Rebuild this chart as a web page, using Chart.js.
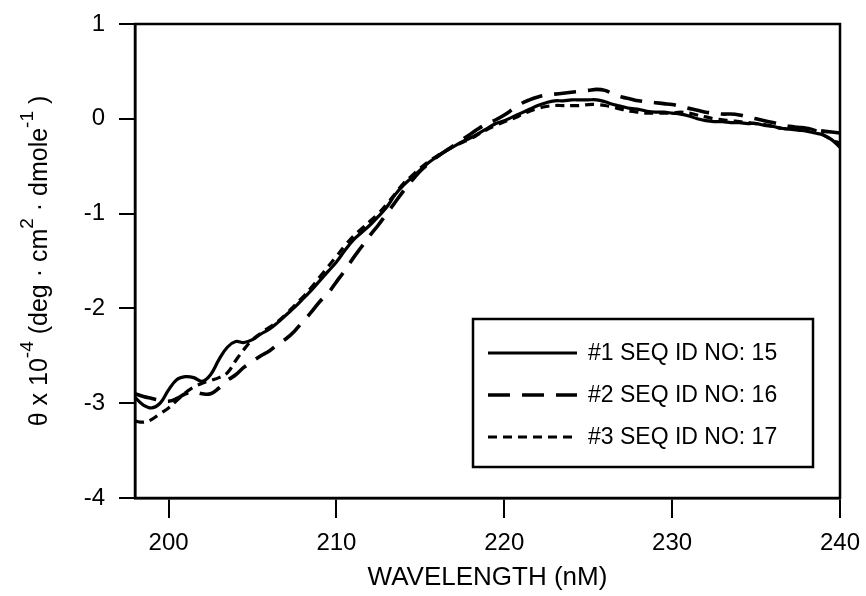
<!DOCTYPE html>
<html>
<head>
<meta charset="utf-8">
<script src="https://cdn.jsdelivr.net/npm/chart.js@4.4.1/dist/chart.umd.min.js"></script>
<style>
html, body { margin: 0; padding: 0; background: #fff; }
#wrap { width: 866px; height: 596px; }
</style>
</head>
<body>
<div id="wrap"><canvas id="cht-cd"></canvas></div>
<script>
// wavelength (nm) sampled every 0.5
var wavelengths = [
  198, 198.5, 199, 199.5, 200, 200.5, 201, 201.5, 202, 202.5,
  203, 203.5, 204, 204.5, 205, 205.5, 206, 206.5, 207, 207.5,
  208, 208.5, 209, 209.5, 210, 210.5, 211, 211.5, 212, 212.5,
  213, 213.5, 214, 214.5, 215, 215.5, 216, 216.5, 217, 217.5,
  218, 218.5, 219, 219.5, 220, 220.5, 221, 221.5, 222, 222.5,
  223, 223.5, 224, 224.5, 225, 225.5, 226, 226.5, 227, 227.5,
  228, 228.5, 229, 229.5, 230, 230.5, 231, 231.5, 232, 232.5,
  233, 233.5, 234, 234.5, 235, 235.5, 236, 236.5, 237, 237.5,
  238, 238.5, 239, 239.5, 240
];

var seq15 = [
  -2.94, -3.02, -3.05, -3.00, -2.86, -2.75, -2.72, -2.73, -2.77, -2.70,
  -2.54, -2.41, -2.35, -2.36, -2.33, -2.27, -2.22, -2.15, -2.07, -1.99,
  -1.90, -1.81, -1.71, -1.61, -1.51, -1.39, -1.28, -1.20, -1.12, -1.03,
  -0.93, -0.80, -0.70, -0.62, -0.54, -0.46, -0.40, -0.34, -0.29, -0.24,
  -0.20, -0.15, -0.10, -0.05, -0.02, 0.02, 0.06, 0.10, 0.14, 0.17,
  0.19, 0.19, 0.20, 0.20, 0.20, 0.20, 0.18, 0.15, 0.13, 0.11,
  0.10, 0.08, 0.07, 0.07, 0.06, 0.05, 0.03, 0.00, -0.02, -0.03,
  -0.03, -0.04, -0.04, -0.05, -0.05, -0.07, -0.08, -0.10, -0.11, -0.12,
  -0.13, -0.15, -0.17, -0.22, -0.30
];

var seq16 = [
  -2.90, -2.93, -2.95, -2.97, -2.98, -2.95, -2.90, -2.88, -2.90, -2.90,
  -2.84, -2.76, -2.70, -2.62, -2.56, -2.50, -2.45, -2.38, -2.32, -2.24,
  -2.14, -2.04, -1.93, -1.84, -1.72, -1.60, -1.47, -1.35, -1.23, -1.12,
  -1.00, -0.88, -0.76, -0.65, -0.55, -0.47, -0.40, -0.34, -0.28, -0.22,
  -0.16, -0.10, -0.05, -0.01, 0.04, 0.10, 0.16, 0.20, 0.23, 0.25,
  0.26, 0.27, 0.28, 0.29, 0.30, 0.31, 0.30, 0.26, 0.23, 0.21,
  0.19, 0.18, 0.17, 0.16, 0.15, 0.13, 0.11, 0.09, 0.07, 0.06,
  0.05, 0.05, 0.04, 0.02, 0.00, -0.02, -0.04, -0.06, -0.08, -0.09,
  -0.10, -0.12, -0.13, -0.14, -0.15
];

var seq17 = [
  -3.19, -3.20, -3.17, -3.11, -3.05, -2.97, -2.89, -2.83, -2.79, -2.76,
  -2.73, -2.68, -2.55, -2.43, -2.33, -2.26, -2.20, -2.14, -2.06, -1.97,
  -1.88, -1.78, -1.67, -1.56, -1.45, -1.34, -1.24, -1.16, -1.08, -1.00,
  -0.90, -0.79, -0.68, -0.60, -0.52, -0.45, -0.39, -0.34, -0.29, -0.25,
  -0.21, -0.16, -0.11, -0.07, -0.03, 0.00, 0.04, 0.08, 0.11, 0.13,
  0.14, 0.14, 0.14, 0.14, 0.15, 0.15, 0.14, 0.12, 0.10, 0.08,
  0.07, 0.06, 0.06, 0.06, 0.06, 0.07, 0.06, 0.04, 0.02, 0.00,
  -0.01, -0.02, -0.03, -0.04, -0.05, -0.06, -0.08, -0.10, -0.11, -0.11,
  -0.10, -0.12, -0.17, -0.22, -0.26
];

var seriesLabels = ['#1 SEQ ID NO: 15', '#2 SEQ ID NO: 16', '#3 SEQ ID NO: 17'];
var xTicks = [200, 210, 220, 230, 240];
var yTicks = [1, 0, -1, -2, -3, -4];

var fontFamily = '"Liberation Sans", Arial, Helvetica, sans-serif';

function pts(vals) {
  var out = [];
  for (var i = 0; i < wavelengths.length; i++) out.push({ x: wavelengths[i], y: vals[i] });
  return out;
}

// box round the plot area
var framePlugin = {
  id: 'frame',
  afterDraw: function (chart) {
    var a = chart.chartArea, ctx = chart.ctx;
    ctx.save();
    ctx.strokeStyle = '#000';
    ctx.lineWidth = 2.5;
    ctx.strokeRect(a.left, a.top, a.right - a.left, a.bottom - a.top);
    ctx.restore();
  }
};

// legend box inside the plot, bottom right
var boxLegend = {
  id: 'boxLegend',
  afterDraw: function (chart) {
    var a = chart.chartArea, ctx = chart.ctx;
    var w = 340, h = 148;
    var x0 = a.right - 27 - w, y0 = a.bottom - 31 - h;
    ctx.save();
    ctx.fillStyle = '#fff';
    ctx.fillRect(x0, y0, w, h);
    ctx.strokeStyle = '#000';
    ctx.lineWidth = 2.5;
    ctx.strokeRect(x0, y0, w, h);
    ctx.font = '23px ' + fontFamily;
    ctx.textBaseline = 'middle';
    ctx.fillStyle = '#000';
    chart.data.datasets.forEach(function (ds, i) {
      var yy = y0 + 34 + i * 42;
      ctx.beginPath();
      ctx.setLineDash(ds.borderDash || []);
      ctx.lineWidth = ds.borderWidth;
      ctx.moveTo(x0 + 15, yy);
      ctx.lineTo(x0 + 104, yy);
      ctx.stroke();
      ctx.setLineDash([]);
      ctx.fillText(ds.label, x0 + 115, yy + 1);
    });
    ctx.restore();
  }
};

// rotated y title with superscripts
var yTitle = {
  id: 'yTitle',
  afterDraw: function (chart) {
    var a = chart.chartArea, ctx = chart.ctx;
    var parts = [
      ['\u03b8 x 10', 0], ['-4', 1], [' (deg \u00b7 cm', 0], ['2', 1],
      [' \u00b7 dmole', 0], ['-1', 1], [' )', 0]
    ];
    var big = '25px ' + fontFamily, small = '19px ' + fontFamily;
    ctx.save();
    var total = 0;
    parts.forEach(function (p) { ctx.font = p[1] ? small : big; total += ctx.measureText(p[0]).width; });
    ctx.translate(40, (a.top + a.bottom) / 2);
    ctx.rotate(-Math.PI / 2);
    ctx.fillStyle = '#000';
    ctx.textBaseline = 'middle';
    var x = -total / 2;
    parts.forEach(function (p) {
      ctx.font = p[1] ? small : big;
      ctx.fillText(p[0], x, p[1] ? -12 : 0);
      x += ctx.measureText(p[0]).width;
    });
    ctx.restore();
  }
};

var ctxEl = document.getElementById('cht-cd');
var chtCD = new Chart(ctxEl, {
  type: 'line',
  data: {
    datasets: [
      { label: seriesLabels[0], data: pts(seq15), borderColor: '#000', borderWidth: 3.2, borderDash: [] },
      { label: seriesLabels[1], data: pts(seq16), borderColor: '#000', borderWidth: 3.6, borderDash: [22, 12] },
      { label: seriesLabels[2], data: pts(seq17), borderColor: '#000', borderWidth: 3.2, borderDash: [9, 6] }
    ]
  },
  options: {
    responsive: true,
    maintainAspectRatio: false,
    animation: false,
    layout: { padding: { top: 24, right: 26, left: 0, bottom: 0 } },
    elements: { point: { radius: 0 }, line: { tension: 0.4, fill: false } },
    plugins: { legend: { display: false }, tooltip: { enabled: false } },
    scales: {
      x: {
        type: 'linear',
        min: 198,
        max: 240,
        afterBuildTicks: function (s) { s.ticks = xTicks.map(function (v) { return { value: v }; }); },
        afterFit: function (s) { s.height = 98; s.paddingLeft = 0; s.paddingRight = 0; },
        border: { color: '#000', width: 2.5 },
        grid: { drawOnChartArea: false, drawTicks: true, tickLength: 20, color: '#000', lineWidth: 2 },
        ticks: { color: '#000', padding: 11, maxRotation: 0, font: { family: fontFamily, size: 24 } },
        title: { display: true, text: 'WAVELENGTH (nM)', color: '#000', padding: { top: 0, bottom: 3 }, font: { family: fontFamily, size: 26 } }
      },
      y: {
        min: -4,
        max: 1,
        afterBuildTicks: function (s) { s.ticks = yTicks.map(function (v) { return { value: v }; }); },
        afterFit: function (s) { s.width = 135; s.paddingTop = 0; s.paddingBottom = 0; },
        border: { color: '#000', width: 2.5 },
        grid: { drawOnChartArea: false, drawTicks: true, tickLength: 16, color: '#000', lineWidth: 2 },
        ticks: { color: '#000', padding: 14, font: { family: fontFamily, size: 24 } }
      }
    }
  },
  plugins: [framePlugin, boxLegend, yTitle]
});
</script>
</body>
</html>
